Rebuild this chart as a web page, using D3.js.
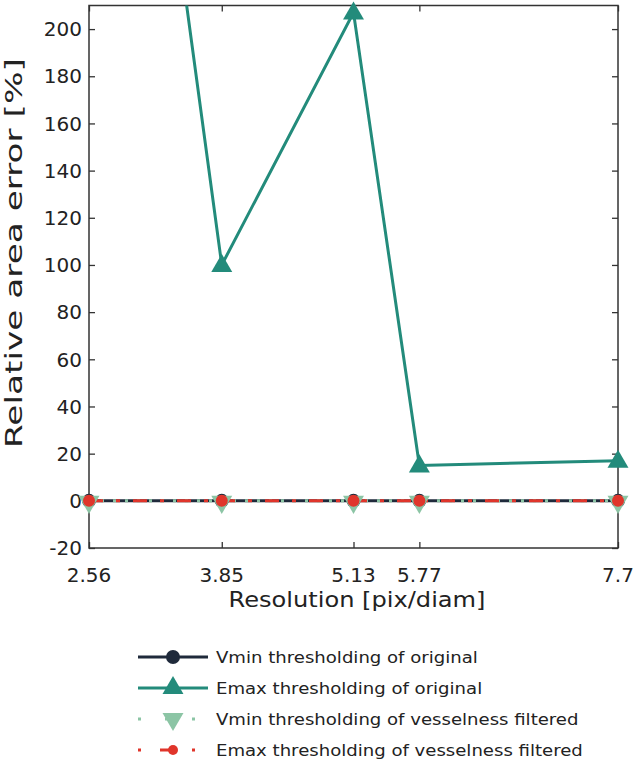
<!DOCTYPE html>
<html><head><meta charset="utf-8">
<script src="https://cdn.jsdelivr.net/npm/d3@7"></script>
<style>body{margin:0;background:#fff}svg{display:block}text{font-family:"DejaVu Sans",sans-serif;fill:#222}</style>
</head><body><svg id="c" width="634" height="765"></svg>
<script>
const resolutions = [2.56, 3.85, 5.13, 5.77, 7.7];
const xTickLabels = ["2.56", "3.85", "5.13", "5.77", "7.7"];
const yTicks = [-20, 0, 20, 40, 60, 80, 100, 120, 140, 160, 180, 200];
const vminOriginal = [0, 0, 0, 0, 0];
const emaxOriginal = [516, 100, 207, 15, 17];
const vminVesselness = [0, 0, 0, 0, 0];
const emaxVesselness = [0, 0, 0, 0, 0];
const seriesNames = ["Vmin thresholding of original", "Emax thresholding of original",
  "Vmin thresholding of vesselness filtered", "Emax thresholding of vesselness filtered"];

const svg = d3.select("#c");
const L = 89, R = 618, T = 5.5, B = 548;
const x = d3.scaleLinear().domain([2.56, 7.7]).range([L, R]);
const y = d3.scaleLinear().domain([-20, 210]).range([B, T]);
const axisColor = "#333";

svg.append("defs").append("clipPath").attr("id", "clip")
  .append("rect").attr("x", L).attr("y", T).attr("width", R - L).attr("height", B - T);

const gx = svg.append("g").attr("transform", `translate(0,${B})`)
  .call(d3.axisTop(x).tickValues(resolutions).tickFormat("").tickSizeOuter(0).tickSize(6));
const gxTop = svg.append("g").attr("transform", `translate(0,${T})`)
  .call(d3.axisBottom(x).tickValues(resolutions).tickFormat("").tickSizeOuter(0).tickSize(6));
const gy = svg.append("g").attr("transform", `translate(${L},0)`)
  .call(d3.axisRight(y).tickValues(yTicks).tickFormat("").tickSizeOuter(0).tickSize(6));
const gyR = svg.append("g").attr("transform", `translate(${R},0)`)
  .call(d3.axisLeft(y).tickValues(yTicks).tickFormat("").tickSizeOuter(0).tickSize(6));
[gx, gxTop, gy, gyR].forEach(g => {
  g.selectAll("path.domain").remove();
  g.selectAll("line").attr("stroke", axisColor).attr("stroke-width", 1.3);
});
svg.append("rect").attr("x", L).attr("y", T).attr("width", R - L).attr("height", B - T)
  .attr("fill", "none").attr("stroke", axisColor).attr("stroke-width", 1.5);

svg.append("g").selectAll("text").data(yTicks).join("text")
  .attr("x", L - 7).attr("y", d => y(d)).attr("dy", "0.36em")
  .attr("text-anchor", "end").attr("font-size", 20).text(d => d);
svg.append("g").selectAll("text").data(resolutions).join("text")
  .attr("x", d => x(d)).attr("y", 582)
  .attr("text-anchor", "middle").attr("font-size", 20).text((d, i) => xTickLabels[i]);

svg.append("text").attr("x", 357).attr("y", 607).attr("text-anchor", "middle")
  .attr("font-size", 22).attr("textLength", 257).attr("lengthAdjust", "spacingAndGlyphs")
  .text("Resolution [pix/diam]");
svg.append("text").attr("transform", `translate(22,253) rotate(-90)`)
  .attr("text-anchor", "middle").attr("font-size", 22.5).attr("textLength", 390).attr("lengthAdjust", "spacingAndGlyphs")
  .text("Relative area error [%]");

const cDark = "#1f2a3b", cTeal = "#238b7b", cGreen = "#8cc5a5", cRed = "#e0352b";
const line = vals => d3.line().x((d, i) => x(resolutions[i])).y(d => y(d))(vals);
const plot = svg.append("g").attr("clip-path", "url(#clip)");

const triUp = d3.symbol().type(d3.symbolTriangle).size(190);
const triDown = d3.symbol().type(d3.symbolTriangle).size(190);

plot.append("path").attr("d", line(vminOriginal)).attr("fill", "none").attr("stroke", cDark).attr("stroke-width", 3);
plot.append("path").attr("d", line(emaxOriginal)).attr("fill", "none").attr("stroke", cTeal).attr("stroke-width", 3);
plot.append("path").attr("d", line(vminVesselness)).attr("fill", "none").attr("stroke", cGreen).attr("stroke-width", 3).attr("stroke-dasharray", "3,9");
plot.append("path").attr("d", line(emaxVesselness)).attr("fill", "none").attr("stroke", cRed).attr("stroke-width", 3).attr("stroke-dasharray", "14,13,4,13");

const inRange = v => v >= -20 && v <= 210;
svg.append("g").selectAll("circle").data(vminOriginal).join("circle")
  .attr("cx", (d, i) => x(resolutions[i])).attr("cy", d => y(d)).attr("r", 7).attr("fill", cDark);
svg.append("g").selectAll("path").data(emaxOriginal.map((v, i) => [resolutions[i], v]).filter(d => inRange(d[1]))).join("path")
  .attr("d", triUp).attr("transform", d => `translate(${x(d[0])},${y(d[1]) + 1})`).attr("fill", cTeal);
svg.append("g").selectAll("path").data(vminVesselness).join("path")
  .attr("d", triDown).attr("transform", (d, i) => `translate(${x(resolutions[i])},${y(d) + 1}) rotate(180)`).attr("fill", cGreen);
svg.append("g").selectAll("circle").data(emaxVesselness).join("circle")
  .attr("cx", (d, i) => x(resolutions[i])).attr("cy", d => y(d)).attr("r", 6).attr("fill", cRed);

const legRows = [657, 688, 719, 750];
const lg = svg.append("g");
const styles = [
  {c: cDark, dash: null, m: "circle", r: 7},
  {c: cTeal, dash: null, m: "up"},
  {c: cGreen, dash: "3,24", m: "down"},
  {c: cRed, dash: "3,19,13,19", m: "circle", r: 5}
];
seriesNames.forEach((name, i) => {
  const yy = legRows[i], s = styles[i];
  lg.append("line").attr("x1", 138).attr("x2", 208).attr("y1", yy).attr("y2", yy)
    .attr("stroke", s.c).attr("stroke-width", 3).attr("stroke-dasharray", s.dash);
  if (s.m === "circle") lg.append("circle").attr("cx", 173).attr("cy", yy).attr("r", s.r).attr("fill", s.c);
  else if (s.m === "up") lg.append("path").attr("d", triUp).attr("transform", `translate(173,${yy})`).attr("fill", s.c);
  else lg.append("path").attr("d", triDown).attr("transform", `translate(173,${yy}) rotate(180)`).attr("fill", s.c);
  const t = lg.append("text").attr("x", 216).attr("y", yy).attr("dy", "0.35em").attr("font-size", 16).text(name);
  const w = t.node().getComputedTextLength();
  t.attr("textLength", w * 1.13).attr("lengthAdjust", "spacingAndGlyphs");
});
</script></body></html>
